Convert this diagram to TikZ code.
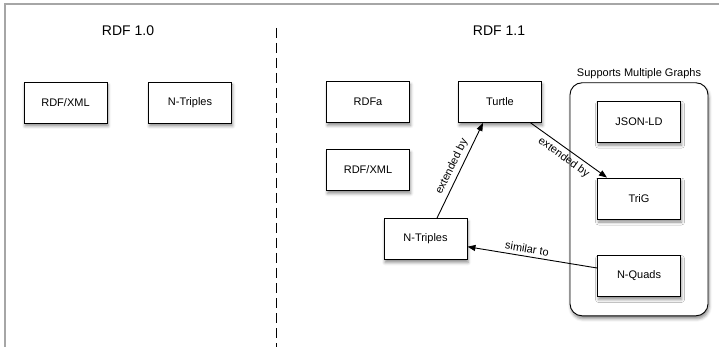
\documentclass[tikz,border=0pt]{standalone}
\usepackage{fontspec}
\setmainfont{Liberation Sans}
\usetikzlibrary{shadows.blur,arrows.meta}

\begin{document}
\begin{tikzpicture}[x=1pt,y=-1pt,
    fmt/.style={draw, fill=white, line width=0.9pt,
      minimum width=83pt, minimum height=41pt,
      font=\fontsize{11}{13}\selectfont,
      blur shadow={shadow xshift=1pt, shadow yshift=-3pt,
        shadow blur radius=3pt, shadow opacity=45}},
    group/.style={draw, fill=white, line width=0.9pt, rounded corners=12pt,
      minimum width=138pt, minimum height=233pt,
      blur shadow={shadow xshift=1pt, shadow yshift=-3pt,
        shadow blur radius=3pt, shadow opacity=45}},
    title/.style={font=\fontsize{14}{16}\selectfont},
    lbl/.style={font=\fontsize{11}{13}\selectfont},
    link/.style={-{Triangle[length=8pt,width=6pt]}, line width=0.9pt}]
  \useasboundingbox (0,0) rectangle (725,347);
  % frame and divider
  \draw[gray!70, line width=1.2pt] (5,347) -- (5,4) -- (719,4);
  \draw[line width=0.9pt, dash pattern=on 10pt off 5pt] (276.5,28) -- (276.5,347);

  \node[title] (v10) at (128,31) {RDF 1.0};
  \node[title] (v11) at (499,31) {RDF 1.1};

  % RDF 1.0
  \node[fmt] (xml0) at (65.5,102.5) {RDF/XML};
  \node[fmt] (nt0)  at (190,102.5)  {N-Triples};

  % RDF 1.1
  \node[group] (multi) at (639,199.3) {};
  \node[lbl, above] (multilbl) at (multi.north) {Supports Multiple Graphs};
  \node[fmt] (rdfa)   at (368,102)   {RDFa};
  \node[fmt] (turtle) at (500,102)   {Turtle};
  \node[fmt] (xml1)   at (368,170)   {RDF/XML};
  \node[fmt] (nt1)    at (425.5,239) {N-Triples};
  \node[fmt] (jsonld) at (639,121.7) {JSON-LD};
  \node[fmt] (trig)   at (639,198.5) {TriG};
  \node[fmt] (nquads) at (639,276)   {N-Quads};

  \draw[link] ([xshift=11.5pt]nt1.north) -- ([xshift=-17pt]turtle.south)
    node[lbl, midway, sloped, above] {extended by};
  \draw[link] ([xshift=30.7pt]turtle.south) -- ([xshift=-32pt]trig.north)
    node[lbl, midway, sloped, below] {extended by};
  \draw[link] ([yshift=8pt]nquads.west) -- ([yshift=-7.7pt]nt1.east)
    node[lbl, pos=0.55, sloped, above] {similar to};
\end{tikzpicture}
\end{document}
